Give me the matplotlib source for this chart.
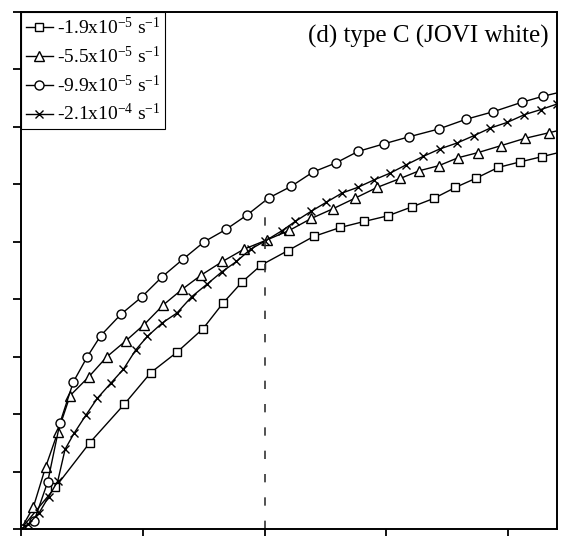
import numpy as np
import matplotlib
matplotlib.use('Agg')
import matplotlib.pyplot as plt

plt.rcParams['font.family'] = ['Liberation Serif', 'DejaVu Serif']
plt.rcParams['mathtext.fontset'] = 'custom'
plt.rcParams['mathtext.rm'] = 'Liberation Serif'
plt.rcParams['mathtext.it'] = 'Liberation Serif:italic'

# series values (arbitrary units, last point runs past the right edge)
x_sq = [0, 0.282, 0.565, 0.848, 1.066, 1.279, 1.493, 1.657, 1.816, 1.972, 2.188, 2.402,
        2.621, 2.818, 3.013, 3.207, 3.388, 3.566, 3.739, 3.917, 4.094, 4.275, 4.511]
y_sq = [0, 0.726, 1.503, 2.172, 2.723, 3.075, 3.484, 3.929, 4.303, 4.594, 4.843, 5.092,
        5.249, 5.354, 5.453, 5.606, 5.754, 5.946, 6.110, 6.294, 6.389, 6.481, 6.603]

x_tri = [0, 0.101, 0.203, 0.302, 0.403, 0.556, 0.704, 0.860, 1.011, 1.169, 1.325, 1.479,
         1.654, 1.832, 2.016, 2.202, 2.383, 2.561, 2.744, 2.923, 3.114, 3.270, 3.429,
         3.588, 3.749, 3.938, 4.136, 4.336, 4.511]
y_tri = [0, 0.378, 1.085, 1.685, 2.322, 2.648, 2.997, 3.275, 3.559, 3.902, 4.176, 4.420,
         4.657, 4.873, 5.030, 5.197, 5.406, 5.575, 5.761, 5.946, 6.103, 6.237, 6.324,
         6.463, 6.551, 6.672, 6.800, 6.899, 6.986]

x_circ = [0, 0.109, 0.219, 0.320, 0.430, 0.545, 0.655, 0.822, 0.990, 1.161, 1.331, 1.504,
          1.682, 1.855, 2.032, 2.216, 2.397, 2.583, 2.767, 2.983, 3.188, 3.429, 3.651,
          3.878, 4.109, 4.281, 4.511]
y_circ = [0, 0.145, 0.819, 1.847, 2.561, 3.002, 3.368, 3.741, 4.037, 4.395, 4.699, 5.000,
          5.214, 5.465, 5.761, 5.963, 6.214, 6.371, 6.573, 6.707, 6.829, 6.963, 7.131,
          7.265, 7.427, 7.531, 7.648]

x_x = [0, 0.060, 0.148, 0.226, 0.302, 0.362, 0.436, 0.534, 0.627, 0.737, 0.841, 0.942,
       1.038, 1.161, 1.279, 1.403, 1.526, 1.649, 1.769, 1.886, 2.007, 2.142, 2.251, 2.380,
       2.504, 2.635, 2.763, 2.901, 3.032, 3.163, 3.301, 3.437, 3.580, 3.717, 3.854, 3.991,
       4.133, 4.265, 4.402]
y_x = [0, 0.087, 0.279, 0.557, 0.836, 1.389, 1.667, 1.986, 2.277, 2.538, 2.782, 3.118,
       3.354, 3.589, 3.758, 4.047, 4.260, 4.477, 4.657, 4.873, 5.017, 5.192, 5.354, 5.528,
       5.685, 5.848, 5.946, 6.080, 6.197, 6.341, 6.486, 6.615, 6.720, 6.847, 6.981, 7.078,
       7.213, 7.300, 7.399]

labels = ['-1.9x10$^{-5}$ s$^{-1}$', '-5.5x10$^{-5}$ s$^{-1}$',
          '-9.9x10$^{-5}$ s$^{-1}$', '-2.1x10$^{-4}$ s$^{-1}$']
title = '(d) type C (JOVI white)'

fig = plt.figure(figsize=(5.62, 5.36), dpi=100)
ax = fig.add_axes([21/562, 7/536, 536/562, 517/536])

mk = dict(color='black', lw=1.0, mfc='white', mec='black', mew=1.0)
ax.plot(x_sq, y_sq, marker='s', ms=6, label=labels[0], **mk)
ax.plot(x_tri, y_tri, marker='^', ms=7, label=labels[1], **mk)
ax.plot(x_circ, y_circ, marker='o', ms=6.5, label=labels[2], **mk)
ax.plot(x_x, y_x, marker='x', ms=6, label=labels[3], **mk)

ax.vlines(2, 0, 5.76, colors='#333333', linestyles=(0, (5, 9)), lw=1.2)

ax.set_xlim(0, 4.4)
ax.set_ylim(0, 9)
ax.set_xticks([0, 1, 2, 3, 4])
ax.set_yticks(np.arange(0, 10, 1))
ax.tick_params(direction='out', length=6, width=1.3, labelbottom=False, labelleft=False,
               top=False, right=False)
for s in ax.spines.values():
    s.set_linewidth(1.4)

ax.text(0.985, 0.975, title, transform=ax.transAxes, ha='right', va='top', fontsize=18)

leg = ax.legend(loc='upper left', borderaxespad=0, fontsize=14, handlelength=1.4,
                handletextpad=0.2, labelspacing=0.39, borderpad=0.25, fancybox=False,
                framealpha=1, edgecolor='black')
leg.get_frame().set_linewidth(0.8)

fig.savefig('out.png', dpi=100)
